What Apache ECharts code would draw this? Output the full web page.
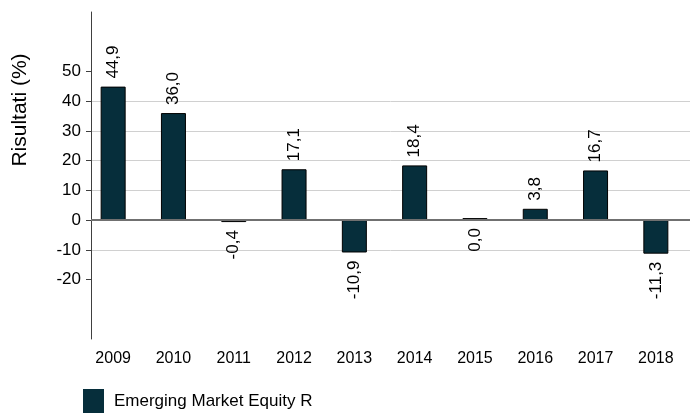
<!DOCTYPE html>
<html>
<head>
<meta charset="utf-8">
<script src="https://cdn.jsdelivr.net/npm/echarts@6/dist/echarts.min.js"></script>
<style>
  html, body { margin: 0; padding: 0; background: #fff; }
  #main { width: 690px; height: 414px; }
</style>
</head>
<body>
<div id="main"></div>
<script>
const years = ["2009", "2010", "2011", "2012", "2013", "2014", "2015", "2016", "2017", "2018"];
const results = [44.9, 36.0, -0.4, 17.1, -10.9, 18.4, 0.0, 3.8, 16.7, -11.3];
const seriesName = "Emerging Market Equity R";
const yLabels = [-20, -10, 0, 10, 20, 30, 40, 50];

const font = "Liberation Sans, Arial, sans-serif";
const barColor = "#062e3b";

// labels go above positive bars, below the rest
let barData = results.map(function (v) {
  let up = v > 0;
  return {
    value: v,
    label: {
      position: up ? "top" : "bottom",
      align: up ? "left" : "right"
    }
  };
});

var myChart = echarts.init(document.getElementById("main"));
myChart.setOption({
  animation: false,
  textStyle: { fontFamily: font },
  grid: [
    { left: 91, right: 0, top: 12, bottom: 75 },
    { left: 83, right: 4, top: 12, bottom: 75 }
  ],
  xAxis: [
    {
      gridIndex: 0, type: "value", min: 0, max: 1,
      axisLine: { show: false }, axisTick: { show: false },
      axisLabel: { show: false }, splitLine: { show: false }
    },
    {
      gridIndex: 1, type: "category", data: years,
      axisLine: { show: false }, axisTick: { show: false },
      axisLabel: { color: "#000", fontSize: 16, margin: 12, fontFamily: font }
    }
  ],
  yAxis: [
    {
      gridIndex: 0, type: "value", min: -40, max: 70, interval: 10,
      axisLine: { show: true, lineStyle: { color: "#404040", width: 1 } },
      axisTick: {
        show: true, length: 5, lineStyle: { color: "#404040" },
        customValues: yLabels
      },
      axisLabel: {
        color: "#000", fontSize: 17, margin: 10, fontFamily: font,
        customValues: yLabels
      },
      splitLine: {
        show: true,
        lineStyle: { color: "#d0d0d0", width: 1 },
        showMinLine: false, showMaxLine: false
      }
    },
    {
      gridIndex: 1, type: "value", min: -40, max: 70,
      show: false, splitLine: { show: false }
    }
  ],
  legend: {
    left: 78, bottom: -4, itemGap: 10,
    itemWidth: 21, itemHeight: 24, itemStyle: { borderWidth: 0 },
    icon: "rect",
    textStyle: { color: "#000", fontSize: 17, fontFamily: font, padding: [0, 0, 0, 5] },
    data: [seriesName]
  },
  graphic: [
    {
      type: "text", x: 20, y: 110, rotation: Math.PI / 2,
      style: {
        text: "Risultati (%)", fill: "#000", fontSize: 21, fontFamily: font,
        align: "center", verticalAlign: "middle"
      }
    }
  ],
  series: [
    {
      // zero line across the plot
      type: "line", xAxisIndex: 0, yAxisIndex: 0,
      data: [[0, 0], [1, 0]], symbol: "none", silent: true,
      lineStyle: { color: "#707070", width: 2 }
    },
    {
      name: seriesName, type: "bar", xAxisIndex: 1, yAxisIndex: 1,
      data: barData, barWidth: 25, barMinHeight: 2,
      itemStyle: { color: barColor, borderColor: "#000", borderWidth: 1 },
      label: {
        show: true, rotate: 90, distance: 8, verticalAlign: "middle",
        color: "#000", fontSize: 17, fontFamily: font,
        formatter: function (p) { return p.value.toFixed(1).replace(".", ","); }
      },
      z: 3
    }
  ]
});
</script>
</body>
</html>
